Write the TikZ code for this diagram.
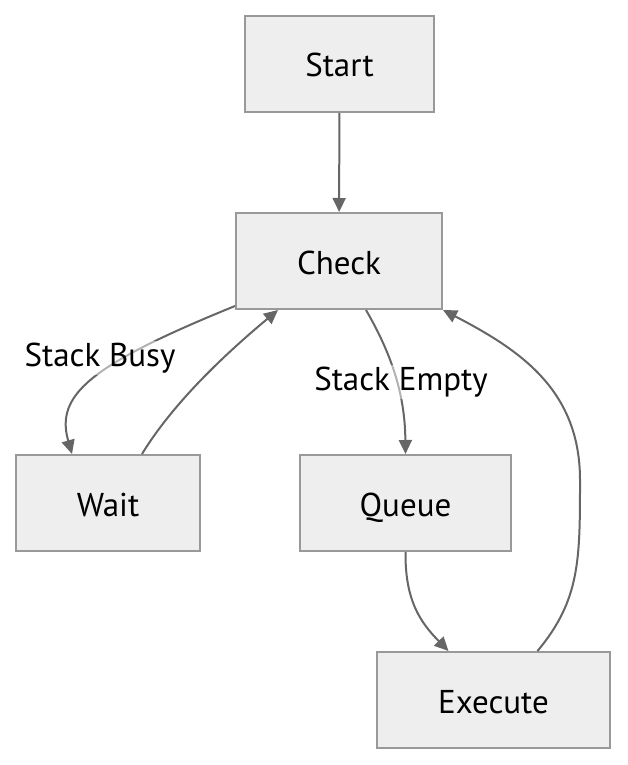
\documentclass[tikz,border=0pt]{standalone}
\usepackage{fontspec}
\setmainfont{PT Sans}
\usetikzlibrary{arrows.meta}
\definecolor{boxfill}{HTML}{EEEEEE}
\definecolor{boxline}{HTML}{999999}
\definecolor{edgeline}{HTML}{666666}
\tikzstyle{node_box} = [rectangle, draw=boxline, fill=boxfill, line width=2pt, minimum height=96pt, inner sep=0pt, text height=30pt, text depth=4pt, font=\fontsize{33}{40}\selectfont]
\tikzstyle{edge_flow} = [draw=edgeline, line width=2pt, -{Triangle[length=14pt, width=13pt]}]
\tikzstyle{edge_label} = [fill=white, fill opacity=0.5, text opacity=1, inner sep=2pt, font=\fontsize{33}{40}\selectfont]

\begin{document}
\begin{tikzpicture}[x=1pt, y=-1pt]
\useasboundingbox (0,0) rectangle (627,765);
\node (start) at (339.5,64) [node_box, minimum width=189pt] {Start};
\node (check) at (339,261) [node_box, minimum width=206pt] {Check};
\node (wait) at (108,503) [node_box, minimum width=184pt] {Wait};
\node (queue) at (405.5,503) [node_box, minimum width=211pt] {Queue};
\node (execute) at (493.5,700) [node_box, minimum width=233pt] {Execute};

\draw[edge_flow] (start) -- (check);
\draw[edge_flow] ([yshift=4pt]check.south west) .. controls (90,365) and (55,395) .. ([xshift=-36pt]wait.north);
\draw[edge_flow] ([xshift=34pt]wait.north) .. controls (175,400) and (230,350) .. ([xshift=-61pt]check.south);
\draw[edge_flow] ([xshift=27pt]check.south) .. controls (395,360) and (405,400) .. (queue.north);
\draw[edge_flow] (queue.south) .. controls (405,600) and (420,622) .. ([xshift=-45pt]execute.north);
\draw[edge_flow] ([xshift=44pt]execute.north) .. controls (580,600) and (580,560) .. (580,480)
  .. controls (580,390) and (520,350) .. (check.south east);
\node (busy) at (100,358) [edge_label] {Stack Busy};
\node (empty) at (401,382) [edge_label] {Stack Empty};
\end{tikzpicture}
\end{document}
